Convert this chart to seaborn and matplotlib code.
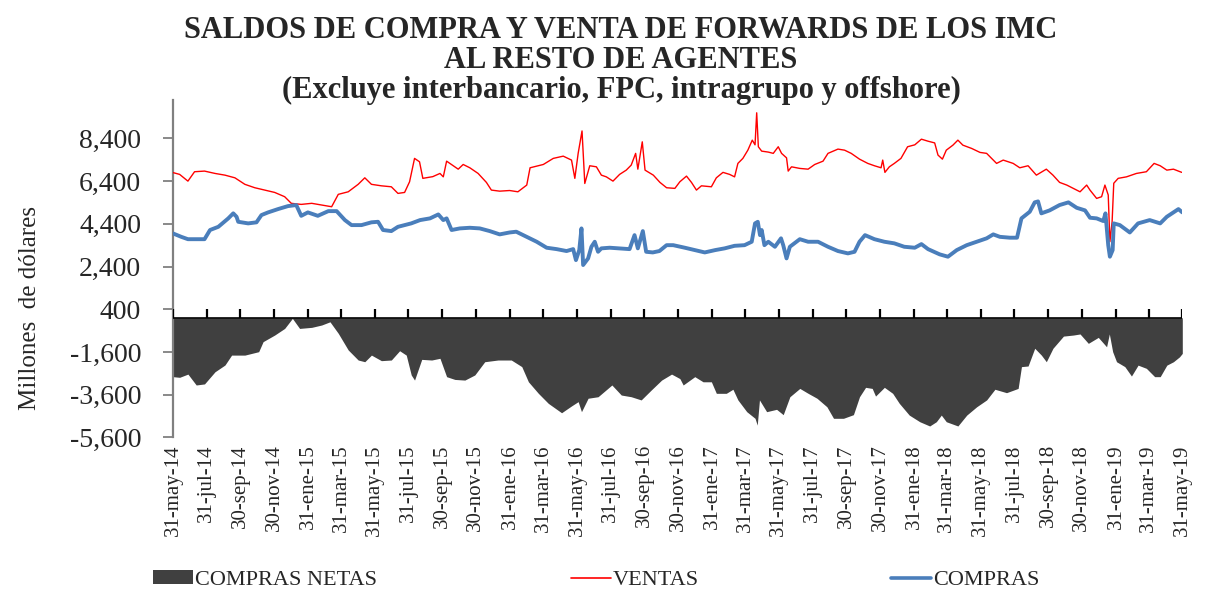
import matplotlib
matplotlib.use("Agg")
import matplotlib.pyplot as plt
from matplotlib.patches import Patch
from matplotlib.lines import Line2D
import matplotlib.ticker as mticker
import pandas as pd
import seaborn as sns

# ---------------------------------------------------------------- data
fechas_ventas = [
    "2014-05-31", "2014-06-12", "2014-06-27", "2014-07-09", "2014-07-27", "2014-08-15",
    "2014-09-02", "2014-09-20", "2014-10-08", "2014-10-26", "2014-11-13", "2014-12-01",
    "2014-12-19", "2014-12-31", "2015-01-18", "2015-02-06", "2015-02-24", "2015-03-14",
    "2015-03-26", "2015-04-13", "2015-05-01", "2015-05-13", "2015-05-25", "2015-06-12",
    "2015-06-30", "2015-07-12", "2015-07-24", "2015-08-02", "2015-08-11", "2015-08-20",
    "2015-08-26", "2015-09-13", "2015-09-26", "2015-10-02", "2015-10-08", "2015-10-20",
    "2015-10-29", "2015-11-07", "2015-11-19", "2015-12-04", "2015-12-19", "2015-12-28",
    "2016-01-12", "2016-01-30", "2016-02-14", "2016-03-01", "2016-03-07", "2016-03-31",
    "2016-04-18", "2016-05-06", "2016-05-21", "2016-05-27", "2016-06-02", "2016-06-09",
    "2016-06-14", "2016-06-23", "2016-07-05", "2016-07-14", "2016-07-23", "2016-08-04",
    "2016-08-16", "2016-08-28", "2016-09-06", "2016-09-14", "2016-09-18", "2016-09-26",
    "2016-10-01", "2016-10-16", "2016-10-28", "2016-11-09", "2016-11-24", "2016-12-03",
    "2016-12-15", "2016-12-24", "2017-01-02", "2017-01-11", "2017-01-29", "2017-02-07",
    "2017-02-19", "2017-03-03", "2017-03-12", "2017-03-18", "2017-03-27", "2017-04-05",
    "2017-04-13", "2017-04-18", "2017-04-21", "2017-04-24", "2017-04-30", "2017-05-12",
    "2017-05-21", "2017-05-30", "2017-06-05", "2017-06-14", "2017-06-17", "2017-06-23",
    "2017-07-08", "2017-07-23", "2017-08-04", "2017-08-19", "2017-08-28", "2017-09-15",
    "2017-09-27", "2017-10-09", "2017-10-24", "2017-11-08", "2017-11-20", "2017-12-02",
    "2017-12-05", "2017-12-09", "2017-12-17", "2017-12-26", "2018-01-07", "2018-01-19",
    "2018-02-01", "2018-02-13", "2018-02-25", "2018-03-09", "2018-03-15", "2018-03-23",
    "2018-03-30", "2018-04-11", "2018-04-20", "2018-04-29", "2018-05-15", "2018-05-30",
    "2018-06-11", "2018-06-29", "2018-07-11", "2018-07-29", "2018-08-10", "2018-08-25",
    "2018-09-09", "2018-09-27", "2018-10-09", "2018-10-21", "2018-11-03", "2018-11-15",
    "2018-11-27", "2018-12-09", "2018-12-15", "2018-12-27", "2019-01-05", "2019-01-11",
    "2019-01-17", "2019-01-20", "2019-01-24", "2019-01-27", "2019-02-04", "2019-02-19",
    "2019-03-09", "2019-03-27", "2019-04-10", "2019-04-21", "2019-05-03", "2019-05-15",
    "2019-05-30",
]
ventas = [
    6800, 6715, 6400, 6840, 6870, 6760, 6680, 6555, 6250, 6090, 5980, 5870,
    5670, 5360, 5310, 5360, 5280, 5200, 5780, 5900, 6250, 6555, 6250, 6180,
    6135, 5825, 5870, 6370, 7465, 7305, 6530, 6610, 6760, 6600, 7335, 7120,
    6960, 7180, 7025, 6760, 6340, 5980, 5930, 5960, 5900, 6215, 7025, 7180,
    7465, 7570, 7385, 6530, 7700, 8750, 6290, 7120, 7070, 6680, 6600, 6400,
    6715, 6915, 7150, 7700, 6960, 8240, 6915, 6680, 6340, 6090, 6060, 6370,
    6635, 6340, 5980, 6180, 6135, 6555, 6810, 6715, 6600, 7230, 7465, 7850,
    8320, 8100, 9600, 8010, 7805, 7760, 7700, 8010, 7700, 7490, 6870, 7070,
    6995, 6960, 7180, 7335, 7700, 7900, 7850, 7700, 7430, 7230, 7120, 7025,
    7385, 6810, 7070, 7230, 7465, 8010, 8100, 8365, 8270, 8190, 7620, 7430,
    7850, 8085, 8320, 8085, 7930, 7745, 7700, 7230, 7385, 7230, 7025, 7120,
    6680, 6960, 6680, 6340, 6215, 6060, 5900, 6215, 5980, 5590, 5670, 6215,
    5750, 3560, 4495, 6300, 6530, 6600, 6760, 6840, 7230, 7120, 6915, 6960,
    6810,
]

fechas_compras = [
    "2014-05-31", "2014-06-15", "2014-06-27", "2014-07-27", "2014-08-06", "2014-08-21",
    "2014-09-08", "2014-09-17", "2014-09-23", "2014-09-26", "2014-10-14", "2014-10-29",
    "2014-11-07", "2014-11-19", "2014-12-07", "2014-12-25", "2015-01-09", "2015-01-18",
    "2015-01-30", "2015-02-17", "2015-03-08", "2015-03-23", "2015-04-07", "2015-04-19",
    "2015-05-07", "2015-05-25", "2015-06-06", "2015-06-15", "2015-06-30", "2015-07-12",
    "2015-08-05", "2015-08-21", "2015-09-08", "2015-09-23", "2015-10-02", "2015-10-08",
    "2015-10-17", "2015-11-01", "2015-11-19", "2015-12-07", "2015-12-25", "2016-01-12",
    "2016-01-30", "2016-02-11", "2016-03-01", "2016-03-19", "2016-04-06", "2016-04-24",
    "2016-05-12", "2016-05-24", "2016-05-29", "2016-06-04", "2016-06-08", "2016-06-11",
    "2016-06-20", "2016-06-26", "2016-07-02", "2016-07-08", "2016-07-14", "2016-07-29",
    "2016-08-16", "2016-09-03", "2016-09-12", "2016-09-18", "2016-09-27", "2016-10-03",
    "2016-10-15", "2016-10-27", "2016-11-09", "2016-11-21", "2016-12-12", "2016-12-30",
    "2017-01-17", "2017-02-05", "2017-02-22", "2017-03-12", "2017-03-30", "2017-04-12",
    "2017-04-18", "2017-04-23", "2017-04-27", "2017-04-30", "2017-05-05", "2017-05-12",
    "2017-05-24", "2017-06-04", "2017-06-08", "2017-06-14", "2017-06-20", "2017-07-08",
    "2017-07-23", "2017-08-10", "2017-08-28", "2017-09-15", "2017-10-03", "2017-10-15",
    "2017-10-24", "2017-11-03", "2017-11-20", "2017-12-08", "2017-12-26", "2018-01-13",
    "2018-02-01", "2018-02-13", "2018-02-25", "2018-03-18", "2018-04-02", "2018-04-18",
    "2018-05-06", "2018-05-24", "2018-06-11", "2018-06-23", "2018-07-05", "2018-07-23",
    "2018-08-05", "2018-08-13", "2018-08-28", "2018-09-06", "2018-09-12", "2018-09-18",
    "2018-10-03", "2018-10-21", "2018-11-06", "2018-11-21", "2018-12-06", "2018-12-15",
    "2018-12-27", "2019-01-08", "2019-01-12", "2019-01-17", "2019-01-20", "2019-01-25",
    "2019-01-27", "2019-02-07", "2019-02-25", "2019-03-12", "2019-04-02", "2019-04-21",
    "2019-05-03", "2019-05-24", "2019-05-31",
]
compras = [
    3950, 3790, 3680, 3680, 4110, 4260, 4655, 4890, 4730, 4495, 4420, 4470,
    4810, 4935, 5090, 5230, 5280, 4775, 4935, 4775, 4995, 4995, 4575, 4340,
    4340, 4470, 4495, 4110, 4060, 4260, 4420, 4575, 4655, 4840, 4575, 4655,
    4110, 4185, 4215, 4185, 4060, 3905, 3995, 4030, 3790, 3560, 3280, 3215,
    3125, 3215, 2700, 3170, 4185, 2470, 2780, 3325, 3560, 3090, 3250, 3280,
    3250, 3215, 3870, 3250, 4060, 3090, 3060, 3125, 3400, 3400, 3280, 3170,
    3060, 3170, 3250, 3370, 3400, 3560, 4420, 4495, 3870, 4110, 3400, 3560,
    3325, 3720, 3400, 2780, 3325, 3680, 3560, 3560, 3325, 3125, 3015, 3090,
    3560, 3870, 3680, 3560, 3485, 3325, 3280, 3450, 3215, 2970, 2860, 3170,
    3400, 3560, 3720, 3905, 3790, 3750, 3750, 4655, 4965, 5405, 5450, 4890,
    5030, 5280, 5405, 5150, 5030, 4685, 4655, 4530, 4890, 3400, 2860, 3170,
    4420, 4340, 3995, 4420, 4575, 4420, 4730, 5090, 4935,
]

fechas_netas = [
    "2014-05-31", "2014-06-12", "2014-06-27", "2014-07-12", "2014-07-27", "2014-08-15",
    "2014-09-02", "2014-09-14", "2014-10-08", "2014-11-02", "2014-11-10", "2014-12-01",
    "2014-12-19", "2015-01-02", "2015-01-15", "2015-02-06", "2015-02-24", "2015-03-11",
    "2015-03-26", "2015-04-13", "2015-05-01", "2015-05-13", "2015-05-25", "2015-06-12",
    "2015-06-30", "2015-07-15", "2015-07-27", "2015-08-05", "2015-08-11", "2015-08-24",
    "2015-09-11", "2015-09-26", "2015-10-08", "2015-10-23", "2015-11-10", "2015-11-28",
    "2015-12-16", "2016-01-09", "2016-02-02", "2016-02-21", "2016-03-04", "2016-03-22",
    "2016-04-09", "2016-05-03", "2016-05-21", "2016-06-02", "2016-06-08", "2016-06-20",
    "2016-07-08", "2016-08-02", "2016-08-19", "2016-09-06", "2016-09-24", "2016-10-12",
    "2016-10-31", "2016-11-18", "2016-12-03", "2016-12-09", "2016-12-30", "2017-01-14",
    "2017-01-29", "2017-02-07", "2017-02-25", "2017-03-09", "2017-03-18", "2017-04-03",
    "2017-04-18", "2017-04-22", "2017-04-26", "2017-05-09", "2017-05-27", "2017-06-08",
    "2017-06-20", "2017-07-08", "2017-07-23", "2017-08-08", "2017-08-26", "2017-09-07",
    "2017-09-25", "2017-10-13", "2017-10-24", "2017-11-04", "2017-11-16", "2017-11-22",
    "2017-12-08", "2017-12-23", "2018-01-04", "2018-01-22", "2018-02-10", "2018-02-28",
    "2018-03-12", "2018-03-21", "2018-03-30", "2018-04-20", "2018-05-06", "2018-05-24",
    "2018-06-11", "2018-06-26", "2018-07-17", "2018-08-07", "2018-08-13", "2018-08-25",
    "2018-09-06", "2018-09-18", "2018-09-27", "2018-10-09", "2018-10-28", "2018-11-15",
    "2018-11-27", "2018-12-12", "2018-12-30", "2019-01-14", "2019-01-19", "2019-01-25",
    "2019-02-01", "2019-02-16", "2019-02-28", "2019-03-12", "2019-03-27", "2019-04-11",
    "2019-04-21", "2019-05-03", "2019-05-15", "2019-05-26", "2019-05-31",
]
netas = [
    -2760, -2790, -2640, -3150, -3100, -2530, -2215, -1750, -1750, -1590, -1120, -810,
    -500, -30, -500, -450, -340, -190, -730, -1510, -1980, -2060, -1750, -2010,
    -1980, -1545, -1750, -2680, -2920, -1950, -1980, -1900, -2760, -2890, -2920, -2680,
    -2060, -1980, -1980, -2290, -3000, -3540, -4010, -4450, -4130, -3930, -4400, -3770,
    -3700, -3150, -3620, -3700, -3850, -3390, -2920, -2640, -2850, -3150, -2760, -3000,
    -3000, -3540, -3540, -3350, -3850, -4400, -4710, -5030, -3850, -4400, -4290, -4540,
    -3700, -3310, -3540, -3770, -4170, -4710, -4710, -4540, -3700, -3260, -3310, -3670,
    -3260, -3540, -4010, -4560, -4870, -5070, -4870, -4560, -4870, -5070, -4560, -4170,
    -3850, -3350, -3510, -3310, -2290, -2260, -1430, -1750, -2060, -1430, -860, -810,
    -760, -1200, -920, -1360, -760, -1590, -2060, -2290, -2730, -2220, -2370, -2760,
    -2760, -2220, -2060, -1830, -1670,
]

ticks_fechas = [
    "2014-05-31", "2014-07-31", "2014-09-30", "2014-11-30", "2015-01-31", "2015-03-31",
    "2015-05-31", "2015-07-31", "2015-09-30", "2015-11-30", "2016-01-31", "2016-03-31",
    "2016-05-31", "2016-07-31", "2016-09-30", "2016-11-30", "2017-01-31", "2017-03-31",
    "2017-05-31", "2017-07-31", "2017-09-30", "2017-11-30", "2018-01-31", "2018-03-31",
    "2018-05-31", "2018-07-31", "2018-09-30", "2018-11-30", "2019-01-31", "2019-03-31",
    "2019-05-31",
]
ticks_etiquetas = [
    "31-may-14", "31-jul-14", "30-sep-14", "30-nov-14", "31-ene-15", "31-mar-15",
    "31-may-15", "31-jul-15", "30-sep-15", "30-nov-15", "31-ene-16", "31-mar-16",
    "31-may-16", "31-jul-16", "30-sep-16", "30-nov-16", "31-ene-17", "31-mar-17",
    "31-may-17", "31-jul-17", "30-sep-17", "30-nov-17", "31-ene-18", "31-mar-18",
    "31-may-18", "31-jul-18", "30-sep-18", "30-nov-18", "31-ene-19", "31-mar-19",
    "31-may-19",
]
y_ticks = [-5600, -3600, -1600, 400, 2400, 4400, 6400, 8400]
Y_MIN, Y_MAX = -5600, 10200

titulo = [
    "SALDOS DE COMPRA Y VENTA DE FORWARDS DE LOS IMC",
    "AL RESTO DE AGENTES",
    "(Excluye interbancario, FPC, intragrupo y offshore)",
]

# ---------------------------------------------------------------- style
sns.set_theme(style="white")
plt.rcParams["font.family"] = ["Liberation Serif", "DejaVu Serif"]

COLOR_NETAS = "#404040"
COLOR_VENTAS = "#FF0000"
COLOR_COMPRAS = "#4A7EBB"

df_v = pd.DataFrame({"fecha": pd.to_datetime(fechas_ventas), "valor": ventas})
df_c = pd.DataFrame({"fecha": pd.to_datetime(fechas_compras), "valor": compras})
df_n = pd.DataFrame({"fecha": pd.to_datetime(fechas_netas), "valor": netas})
xt = pd.to_datetime(ticks_fechas)

W, H = 1218, 594
AX_H_PX = 437.3 - 100
fig = plt.figure(figsize=(W / 100, H / 100), dpi=100)
ax = fig.add_axes([173 / W, 1 - 437.3 / H, (1182.3 - 173) / W, AX_H_PX / H])

# net purchases as a filled area below zero
ax.fill_between(df_n["fecha"], df_n["valor"], 0, color=COLOR_NETAS, lw=0, zorder=1)

sns.lineplot(data=df_v, x="fecha", y="valor", ax=ax, color=COLOR_VENTAS,
             lw=1.0, zorder=3, legend=False)
sns.lineplot(data=df_c, x="fecha", y="valor", ax=ax, color=COLOR_COMPRAS,
             lw=2.8, zorder=3, legend=False)

ax.set_xlim(xt[0], xt[-1])
ax.set_ylim(Y_MIN, Y_MAX)
ax.set_xlabel("")
ax.set_ylabel("")

# y axis
ax.set_yticks(y_ticks)
ax.yaxis.set_major_formatter(mticker.FuncFormatter(lambda v, _: f"{int(v):,}"))
ax.tick_params(axis="y", direction="out", length=7, width=1.3, color="#808080",
               labelsize=20, pad=16, left=True)
for s in ("top", "right", "bottom"):
    ax.spines[s].set_visible(False)
ax.spines["left"].set_color("#808080")
ax.spines["left"].set_linewidth(1.6)
ax.set_xticks(xt)
ax.tick_params(axis="x", length=0, labelbottom=False, bottom=False)

# category axis crossing at zero, with short upward tick marks at each date
tick_len = 9 * (Y_MAX - Y_MIN) / AX_H_PX  # 9 px expressed in data units
ax.axhline(0, color="black", lw=1.2, zorder=5)
ax.vlines(xt, 0, tick_len, color="black", lw=1.6, zorder=5)

# date labels along the bottom edge
sec = ax.secondary_xaxis("bottom")
sec.set_xticks(xt, labels=ticks_etiquetas)
sec.tick_params(axis="x", length=0, pad=5, labelsize=15, rotation=90)
sec.spines["bottom"].set_visible(False)

fig.text(30 / W, 1 - 308 / H, "Millones  de dólares", rotation=90,
         ha="center", va="center", fontsize=18)

# title
for txt, yp in zip(titulo, (31, 61, 90)):
    fig.text(621 / W, 1 - yp / H, txt, ha="center", va="center",
             fontsize=22, fontweight="bold")

# legend
entries = [
    (Patch(facecolor=COLOR_NETAS, edgecolor="none"), "COMPRAS NETAS", 153),
    (Line2D([], [], color=COLOR_VENTAS, lw=1.2), "VENTAS", 571),
    (Line2D([], [], color=COLOR_COMPRAS, lw=2.6), "COMPRAS", 891),
]
for h, lab, xp in entries:
    fig.legend([h], [lab], loc="center left", bbox_to_anchor=(xp / W, 1 - 580 / H),
               frameon=False, fontsize=16, handlelength=1.8, handleheight=0.55,
               handletextpad=0.1, borderpad=0, borderaxespad=0)

fig.savefig("out.png", dpi=100)
